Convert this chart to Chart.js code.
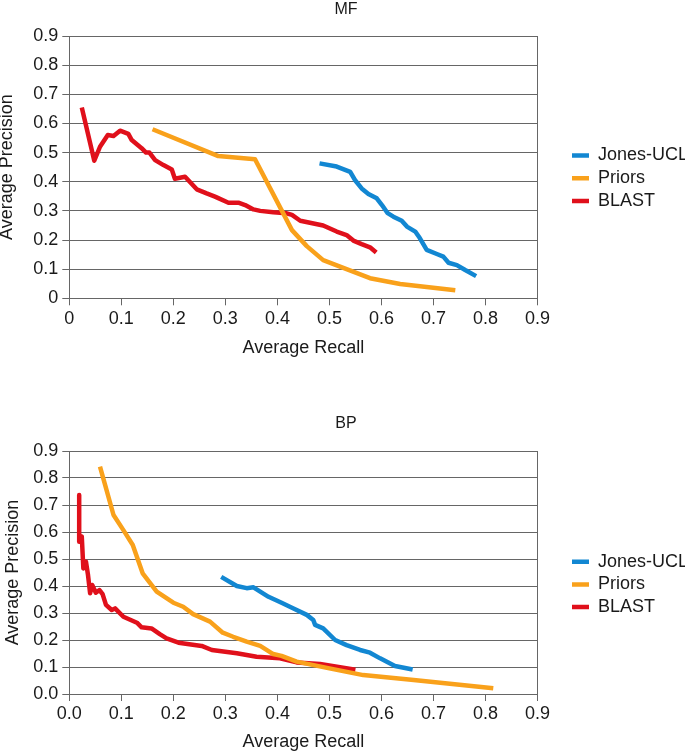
<!DOCTYPE html>
<html>
<head>
<meta charset="utf-8">
<script src="https://cdn.jsdelivr.net/npm/chart.js@4/dist/chart.umd.min.js"></script>
<style>
html, body { margin: 0; padding: 0; background: #ffffff; overflow: hidden; }
#c1 { position: absolute; left: 0; top: 0; }
#c2 { position: absolute; left: 0; top: 376px; }
</style>
</head>
<body>
<canvas id="c1" width="685" height="376"></canvas>
<canvas id="c2" width="685" height="377"></canvas>
<script>
// ---------- data ----------
const seriesNames = ['Jones-UCL', 'Priors', 'BLAST'];
const seriesColors = ['#1287d2', '#f9a11b', '#e0101b'];

const mfTickLabels = ['0', '0.1', '0.2', '0.3', '0.4', '0.5', '0.6', '0.7', '0.8', '0.9'];
const bpTickLabels = ['0.0', '0.1', '0.2', '0.3', '0.4', '0.5', '0.6', '0.7', '0.8', '0.9'];

// MF panel
const mfJonesRecall    = [0.481, 0.514, 0.540, 0.549, 0.562, 0.575, 0.591, 0.601, 0.612, 0.623, 0.639, 0.649, 0.665, 0.674, 0.687, 0.7065, 0.719, 0.729, 0.745, 0.761, 0.782];
const mfJonesPrecision = [0.463, 0.452, 0.434, 0.406, 0.377, 0.358, 0.343, 0.320, 0.292, 0.280, 0.266, 0.246, 0.229, 0.206, 0.166, 0.152, 0.143, 0.122, 0.114, 0.097, 0.076];

const mfPriorsRecall    = [0.160, 0.2865, 0.357, 0.428, 0.4565, 0.488, 0.533, 0.578, 0.636, 0.742];
const mfPriorsPrecision = [0.580, 0.488, 0.477, 0.234, 0.179, 0.131, 0.100, 0.069, 0.049, 0.028];

const mfBlastRecall    = [0.024, 0.048, 0.059, 0.074, 0.085, 0.0975, 0.1135, 0.120, 0.139, 0.1475, 0.154, 0.165, 0.181, 0.197, 0.203, 0.2225, 0.245, 0.264, 0.280, 0.306, 0.325, 0.338, 0.354, 0.367, 0.392, 0.418, 0.428, 0.444, 0.488, 0.514, 0.533, 0.546, 0.562, 0.578, 0.590];
const mfBlastPrecision = [0.655, 0.472, 0.520, 0.560, 0.557, 0.575, 0.564, 0.543, 0.515, 0.500, 0.500, 0.474, 0.457, 0.442, 0.410, 0.417, 0.374, 0.360, 0.349, 0.328, 0.328, 0.320, 0.305, 0.300, 0.295, 0.2915, 0.286, 0.266, 0.250, 0.229, 0.217, 0.198, 0.186, 0.175, 0.157];

// BP panel
const bpJonesRecall    = [0.292, 0.322, 0.341, 0.354, 0.383, 0.408, 0.431, 0.4565, 0.469, 0.4725, 0.488, 0.511, 0.533, 0.559, 0.578, 0.5975, 0.626, 0.660];
const bpJonesPrecision = [0.434, 0.400, 0.392, 0.395, 0.360, 0.338, 0.317, 0.293, 0.274, 0.256, 0.243, 0.200, 0.181, 0.163, 0.153, 0.132, 0.104, 0.091];

const bpPriorsRecall    = [0.059, 0.085, 0.104, 0.122, 0.141, 0.168, 0.200, 0.219, 0.238, 0.2705, 0.295, 0.315, 0.341, 0.367, 0.392, 0.408, 0.437, 0.500, 0.565, 0.662, 0.815];
const bpPriorsPrecision = [0.842, 0.663, 0.607, 0.552, 0.447, 0.379, 0.338, 0.323, 0.296, 0.268, 0.227, 0.212, 0.194, 0.178, 0.148, 0.141, 0.120, 0.095, 0.070, 0.052, 0.021];

const bpBlastRecall    = [0.019, 0.019, 0.024, 0.027, 0.032, 0.036, 0.040, 0.044, 0.051, 0.058, 0.064, 0.0705, 0.0815, 0.088, 0.104, 0.130, 0.139, 0.158, 0.174, 0.187, 0.210, 0.2545, 0.274, 0.322, 0.360, 0.405, 0.437, 0.482, 0.550];
const bpBlastPrecision = [0.737, 0.564, 0.583, 0.465, 0.490, 0.440, 0.373, 0.404, 0.375, 0.385, 0.370, 0.330, 0.311, 0.317, 0.286, 0.264, 0.247, 0.243, 0.222, 0.206, 0.190, 0.178, 0.163, 0.151, 0.138, 0.132, 0.117, 0.111, 0.090];

// ---------- drawing ----------
const FONT = "'Liberation Sans', Arial, Helvetica, sans-serif";
const GRID = '#666666';
const TEXT = '#1a1a1a';
Chart.defaults.font.family = FONT;

function pts(xs, ys) { return xs.map((x, i) => ({ x: x, y: ys[i] })); }

const placer = {
  id: 'placer',
  beforeLayout(chart, args, opts) {
    const lg = chart.legend;
    if (lg && !lg._placerPatched) {
      const orig = lg.fit.bind(lg);
      lg.fit = function () { orig(); this.width = opts.legendBoxWidth; };
      lg._placerPatched = true;
    }
  },
  afterLayout(chart, args, opts) {
    const lg = chart.legend;
    if (lg) {
      const w = lg.width, h = lg.height;
      lg.left = opts.legendX; lg.right = opts.legendX + w;
      lg.top = opts.legendY; lg.bottom = opts.legendY + h;
    }
    const tb = chart.titleBlock;
    if (tb) { tb.left = opts.titleCX - 100; tb.right = opts.titleCX + 100; }
  }
};

function makeChart(id, titleText, tickLabels, series, lay) {
  const datasets = series.map((s, i) => ({
    label: seriesNames[i],
    data: pts(s[0], s[1]),
    borderColor: seriesColors[i],
    backgroundColor: seriesColors[i],
    borderWidth: 4.5,
    pointRadius: 0,
    pointHoverRadius: 0,
    tension: 0,
    fill: false,
    borderJoinStyle: 'round'
  }));
  return new Chart(document.getElementById(id), {
    type: 'line',
    data: { datasets: datasets },
    options: {
      responsive: false,
      animation: false,
      devicePixelRatio: 1,
      layout: { padding: { left: 0, right: 0, top: 0, bottom: lay.padBottom } },
      plugins: {
        title: {
          display: true, text: titleText, color: TEXT,
          font: { size: 16, weight: 'normal', lineHeight: 1.15 },
          padding: { top: lay.titleTop, bottom: lay.titleBottom }
        },
        legend: {
          position: 'right', align: 'start',
          labels: {
            boxWidth: 17, boxHeight: 4.5, padding: 4.7, color: TEXT,
            font: { size: 18 },
            generateLabels: (chart) => Chart.defaults.plugins.legend.labels.generateLabels(chart)
              .map(l => Object.assign({}, l, { lineWidth: 0 }))
          }
        },
        tooltip: { enabled: false },
        placer: { legendBoxWidth: 147.5, legendX: 567.3, legendY: lay.legendY, titleCX: 346 }
      },
      scales: {
        x: {
          type: 'linear', min: 0, max: 0.9,
          ticks: {
            stepSize: 0.1, padding: lay.xTickPad, color: TEXT, font: { size: 18 },
            maxRotation: 0, autoSkip: false,
            callback: (v, i) => tickLabels[i]
          },
          grid: {
            color: (c) => (c.tick && Math.abs(c.tick.value - 0.9) < 1e-6) ? GRID : 'rgba(0,0,0,0)',
            tickColor: GRID, tickLength: 7, lineWidth: 1
          },
          border: { display: true, color: GRID, width: 1 },
          title: { display: true, text: 'Average Recall', color: TEXT, font: { size: 18 }, padding: 0 },
          afterFit: (s) => { s.height = lay.xH; }
        },
        y: {
          type: 'linear', min: 0, max: 0.9,
          ticks: {
            stepSize: 0.1, padding: 4, color: TEXT, font: { size: 18 },
            callback: (v, i) => tickLabels[i]
          },
          grid: { color: GRID, tickColor: GRID, tickLength: 7, lineWidth: 1 },
          border: { display: true, color: GRID, width: 1 },
          title: {
            display: true, text: 'Average Precision', color: TEXT,
            font: { size: 18, lineHeight: lay.yTitleLH }, padding: { top: lay.yTitlePad, bottom: 0 }
          },
          afterFit: (s) => { s.width = 69.3; }
        }
      }
    },
    plugins: [placer]
  });
}

makeChart('c1', 'MF', mfTickLabels, [
  [mfJonesRecall, mfJonesPrecision],
  [mfPriorsRecall, mfPriorsPrecision],
  [mfBlastRecall, mfBlastPrecision]
], { padBottom: 17.5, titleTop: 0, titleBottom: 17.6, legendY: 141.8, xTickPad: 3.4, xH: 60.2, yTitleLH: 0.75, yTitlePad: 0 });

makeChart('c2', 'BP', bpTickLabels, [
  [bpJonesRecall, bpJonesPrecision],
  [bpPriorsRecall, bpPriorsPrecision],
  [bpBlastRecall, bpBlastPrecision]
], { padBottom: 0.2, titleTop: 38.1, titleBottom: 18.5, legendY: 172, xTickPad: 2.2, xH: 58.8, yTitleLH: 1.2, yTitlePad: 2.2 });
</script>
</body>
</html>
